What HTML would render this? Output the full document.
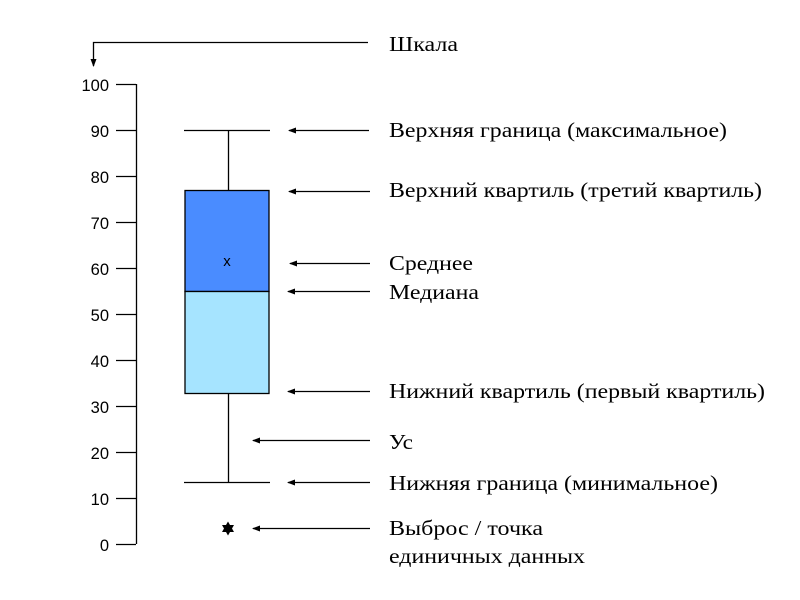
<!DOCTYPE html>
<html><head><meta charset="utf-8"><style>body{margin:0;background:#fff}svg{display:block}</style></head><body>
<svg width="800" height="600" viewBox="0 0 800 600" xmlns="http://www.w3.org/2000/svg">
<defs><marker id="a" markerWidth="8" markerHeight="6" refX="7" refY="3" orient="auto" markerUnits="userSpaceOnUse"><path d="M0,0 L8,3 L0,6 z" fill="#000"/></marker></defs>
<g stroke="#000" stroke-width="1.3" fill="none">
<line x1="136.5" y1="84" x2="136.5" y2="544"/>
<line x1="116" y1="84.5" x2="136" y2="84.5"/>
<line x1="116" y1="130.5" x2="136" y2="130.5"/>
<line x1="116" y1="176.5" x2="136" y2="176.5"/>
<line x1="116" y1="222.5" x2="136" y2="222.5"/>
<line x1="116" y1="268.5" x2="136" y2="268.5"/>
<line x1="116" y1="314.5" x2="136" y2="314.5"/>
<line x1="116" y1="360.5" x2="136" y2="360.5"/>
<line x1="116" y1="406.5" x2="136" y2="406.5"/>
<line x1="116" y1="452.5" x2="136" y2="452.5"/>
<line x1="116" y1="498.5" x2="136" y2="498.5"/>
<line x1="116" y1="544.5" x2="136" y2="544.5"/>
<polyline points="368,42.5 93.5,42.5 93.5,66" marker-end="url(#a)"/>
<line x1="184" y1="130.5" x2="270" y2="130.5"/>
<line x1="228.5" y1="130" x2="228.5" y2="190"/>
<line x1="228.5" y1="393" x2="228.5" y2="482"/>
<line x1="184" y1="482.5" x2="270" y2="482.5"/>
</g>
<rect x="185" y="190.5" width="84" height="101" fill="#4a8cff" stroke="#000" stroke-width="1.3"/>
<rect x="185" y="291.5" width="84" height="102" fill="#a6e4ff" stroke="#000" stroke-width="1.3"/>
<text x="227" y="266" font-family="Liberation Sans" font-size="15" text-anchor="middle">x</text>
<polygon points="228,521.5 230,525 234,525 232,528.5 234,532 230,532 228,535.5 226,532 222,532 224,528.5 222,525 226,525" fill="#000"/>
<g stroke="#000" stroke-width="1.2" marker-end="url(#a)">
<line x1="369" y1="130.5" x2="289" y2="130.5"/>
<line x1="370" y1="191.5" x2="289" y2="191.5"/>
<line x1="370" y1="263.5" x2="290" y2="263.5"/>
<line x1="370" y1="291.5" x2="288" y2="291.5"/>
<line x1="370" y1="391.5" x2="288" y2="391.5"/>
<line x1="370" y1="440.5" x2="253" y2="440.5"/>
<line x1="370" y1="482.5" x2="288" y2="482.5"/>
<line x1="370" y1="528.5" x2="253" y2="528.5"/>
</g>
<g font-family="Liberation Sans" font-size="16.5" text-anchor="end">
<text x="109" y="91">100</text><text x="109" y="137">90</text><text x="109" y="183">80</text><text x="109" y="229">70</text><text x="109" y="275">60</text><text x="109" y="321">50</text><text x="109" y="367">40</text><text x="109" y="413">30</text><text x="109" y="459">20</text><text x="109" y="505">10</text><text x="109" y="551">0</text>
</g>
<g font-family="Liberation Serif" font-size="21">
<text x="389" y="51" textLength="69" lengthAdjust="spacingAndGlyphs">Шкала</text>
<text x="389" y="137" textLength="338" lengthAdjust="spacingAndGlyphs">Верхняя граница (максимальное)</text>
<text x="389" y="197" textLength="373" lengthAdjust="spacingAndGlyphs">Верхний квартиль (третий квартиль)</text>
<text x="389" y="270" textLength="84" lengthAdjust="spacingAndGlyphs">Среднее</text>
<text x="389" y="299" textLength="90" lengthAdjust="spacingAndGlyphs">Медиана</text>
<text x="389" y="398" textLength="376" lengthAdjust="spacingAndGlyphs">Нижний квартиль (первый квартиль)</text>
<text x="389" y="449" textLength="24" lengthAdjust="spacingAndGlyphs">Ус</text>
<text x="389" y="490" textLength="329" lengthAdjust="spacingAndGlyphs">Нижняя граница (минимальное)</text>
<text x="389" y="535" textLength="154" lengthAdjust="spacingAndGlyphs">Выброс / точка</text>
<text x="389" y="563" textLength="196" lengthAdjust="spacingAndGlyphs">единичных данных</text>
</g>
</svg>
</body></html>
